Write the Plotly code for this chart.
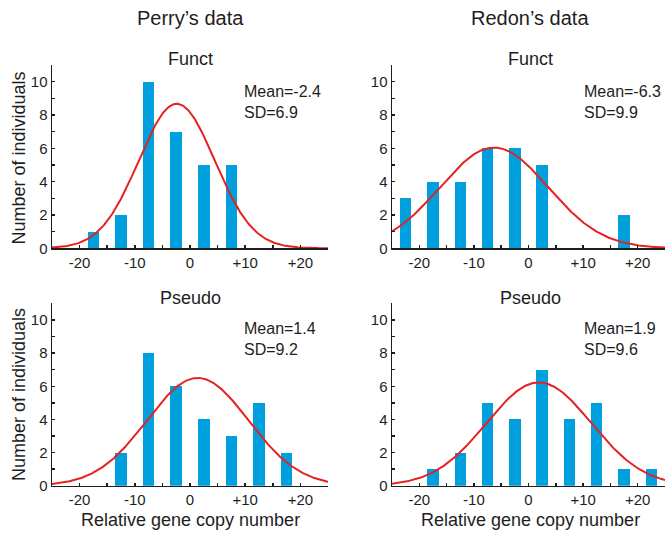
import numpy as np
import plotly.graph_objects as go

# ---- data ----
bin_centers = [-22.5, -17.5, -12.5, -7.5, -2.5, 2.5, 7.5, 12.5, 17.5, 22.5]
perry_funct = [0, 1, 2, 10, 7, 5, 5, 0, 0, 0]
redon_funct = [3, 4, 4, 6, 6, 5, 0, 0, 2, 0]
perry_pseudo = [0, 0, 2, 8, 6, 4, 3, 5, 2, 0]
redon_pseudo = [0, 1, 2, 5, 4, 7, 4, 5, 1, 1]
means = [-2.4, -6.3, 1.4, 1.9]
sds = [6.9, 9.9, 9.2, 9.6]
bin_width = 5
x_ticks = [-25, -20, -15, -10, -5, 0, 5, 10, 15, 20, 25]
x_ticktext = ["", "-20", "", "-10", "", "0", "", "+10", "", "+20", ""]
y_ticks = list(range(0, 11))
y_ticktext = [str(v) if v % 2 == 0 else "" for v in y_ticks]
panel_titles = ["Funct", "Funct", "Pseudo", "Pseudo"]
col_titles = ["Perry\u2019s data", "Redon\u2019s data"]
x_title = "Relative gene copy number"
y_title = "Number of individuals"

series = [perry_funct, redon_funct, perry_pseudo, redon_pseudo]

BAR = "#00A0DF"
RED = "#E42320"
INK = "#1e1e1e"
FONT = "Liberation Sans, Arial, sans-serif"
W, H = 666, 541

# pixel layout -> paper domains
xdom_px = [(52, 328), (392, 665)]
ydom_px = [(66, 252), (308, 493)]
col_cx = [191, 530]
def xd(p):
    return [p[0] / W, p[1] / W]
def yd(p):
    return [1 - p[1] / H, 1 - p[0] / H]
def px(x):
    return x / W
def py(y):
    return 1 - y / H

fig = go.Figure()
layout = {}
annotations = []

def ann(text, x, y, size, xanchor="center", yanchor="middle", align="center", angle=0):
    annotations.append(dict(text=text, x=px(x), y=py(y), xref="paper", yref="paper",
                            showarrow=False, xanchor=xanchor, yanchor=yanchor, align=align,
                            textangle=angle, font=dict(family=FONT, size=size, color=INK)))

xs = np.linspace(-25, 25, 400)
for i, counts in enumerate(series):
    row, col = divmod(i, 2)
    n = i + 1
    xa = "x" if n == 1 else f"x{n}"
    ya = "y" if n == 1 else f"y{n}"
    bx = [c for c, v in zip(bin_centers, counts) if v > 0]
    by = [v for v in counts if v > 0]
    fig.add_trace(go.Bar(x=bx, y=by, width=2.1, marker=dict(color=BAR, line=dict(width=0)),
                         xaxis=xa, yaxis=ya, showlegend=False, hoverinfo="skip"))
    total = sum(counts)
    m, s = means[i], sds[i]
    peak = total * bin_width / (s * np.sqrt(2 * np.pi))
    ys = peak * np.exp(-((xs - m) ** 2) / (2 * s ** 2))
    fig.add_trace(go.Scatter(x=xs, y=ys, mode="lines", line=dict(color=RED, width=2),
                             xaxis=xa, yaxis=ya, showlegend=False, hoverinfo="skip"))
    axkey = "xaxis" if n == 1 else f"xaxis{n}"
    aykey = "yaxis" if n == 1 else f"yaxis{n}"
    layout[axkey] = dict(
        domain=xd(xdom_px[col]), range=[-25, 25], anchor=ya,
        tickmode="array", tickvals=x_ticks, ticktext=x_ticktext,
        ticks="inside", ticklen=3, tickwidth=1.5, tickcolor=INK,
        showline=True, linecolor=INK, linewidth=1.5, showgrid=False, zeroline=False,
        tickfont=dict(family=FONT, size=15, color=INK),
    )
    layout[aykey] = dict(
        domain=yd(ydom_px[row]), range=[0, 11], anchor=xa,
        tickmode="array", tickvals=y_ticks, ticktext=y_ticktext,
        ticks="inside", ticklen=3, tickwidth=1.5, tickcolor=INK,
        showline=True, linecolor=INK, linewidth=1.5, showgrid=False, zeroline=False,
        tickfont=dict(family=FONT, size=15, color=INK),
    )
    # panel title
    ann(panel_titles[i], col_cx[col], 60 if row == 0 else 302, 18)
    # stats
    sx = 242 if col == 0 else 582
    my = 92 if row == 0 else 333
    ann(f"Mean={m}<br>SD={s}", sx, my - 10, 16, xanchor="left", yanchor="top", align="left")
    # axis titles
    if row == 1:
        ann(x_title, col_cx[col], 528, 18)
    if col == 0:
        ann(y_title, 19, 161 if row == 0 else 401, 18, angle=-90)

for j, t in enumerate(col_titles):
    ann(t, col_cx[j], 18, 20)

fig.update_layout(
    width=W, height=H, margin=dict(l=0, r=0, t=0, b=0),
    paper_bgcolor="white", plot_bgcolor="white", hovermode=False,
    annotations=annotations, bargap=0, **layout,
)
fig.write_html("out.html", config={"displayModeBar": False, "staticPlot": True},
               post_script="document.body.style.margin='0';document.body.style.overflow='hidden';")
